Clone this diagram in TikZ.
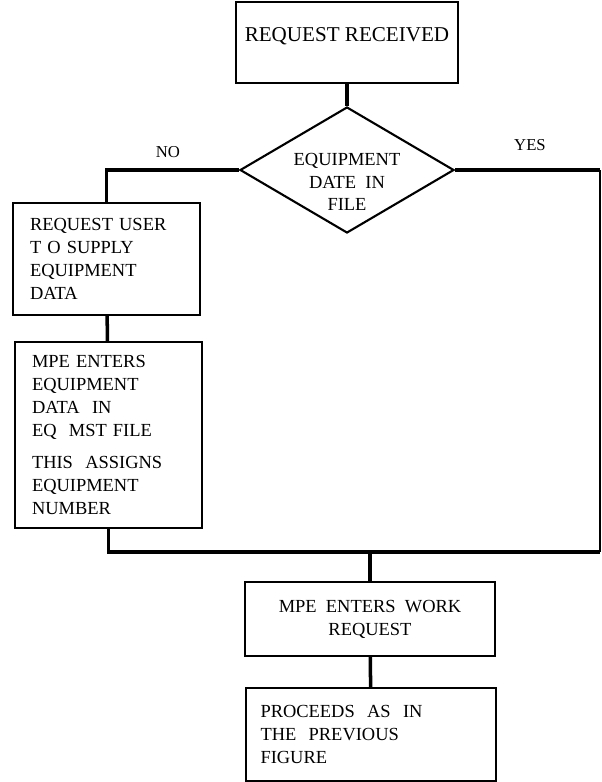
\documentclass[tikz,border=0pt]{standalone}
\usepackage{fontspec}
\setmainfont{Liberation Serif}
\usepackage{tikz}
\usetikzlibrary{positioning, shapes.geometric, calc}

\begin{document}
\begin{tikzpicture}[every node/.style={font=\fontsize{10.5}{13}\selectfont},
      box/.style={rectangle, draw, line width=1.2pt, inner sep=0pt},
      leftbox/.style={box, align=left, inner xsep=0.34cm},
      decision/.style={diamond, draw, line width=1.2pt, inner sep=0pt, align=center},
      link/.style={line width=2pt}]

      \useasboundingbox (0,0) rectangle (12.04,-15.64);

      % Blocks
      \node[box, minimum width=4.44cm, minimum height=1.62cm, text depth=0.3cm,
            font=\fontsize{12}{14}\selectfont] (received) at (6.94,-0.85) {REQUEST RECEIVED};
      \node[decision, minimum width=4.28cm, minimum height=2.52cm, shape aspect=1.7,
            label={[name=indatatext, align=center, yshift=-0.24cm]center:{EQUIPMENT\\DATE\ \ IN\\FILE}}] (indata) at (6.94,-3.4) {};
      \node[leftbox, minimum width=3.74cm, minimum height=2.24cm, text width=3.06cm] (askuser) at (2.13,-5.18)
            {REQUEST USER\\T O SUPPLY\\EQUIPMENT\\DATA};
      \node[leftbox, minimum width=3.74cm, minimum height=3.72cm, text width=3.06cm] (mpedata) at (2.17,-8.70)
            {MPE ENTERS\\EQUIPMENT\\DATA\ \ IN\\EQ\ \ MST FILE\\[0.2cm]THIS\ \ ASSIGNS\\EQUIPMENT\\NUMBER};
      \node[box, align=center, minimum width=5cm, minimum height=1.48cm] (workreq) at (7.4,-12.38)
            {MPE\ \ ENTERS\ \ WORK\\REQUEST};
      \node[leftbox, minimum width=5cm, minimum height=1.86cm, text width=4.42cm, inner xsep=0.29cm] (proceed) at (7.42,-14.69)
            {PROCEEDS\ \ AS\ \ IN\\THE\ \ PREVIOUS\\FIGURE};

      % Junction points
      \coordinate (corner) at (12.0,-11.04);
      \coordinate (yesend) at (indata.east -| corner);
      \coordinate (join) at (workreq.north |- corner);

      % Connections
      \draw[link] (received) -- (indata);
      \draw[link] (indata.west) -| (askuser.north);
      \draw[link] (askuser) -- (mpedata);
      \draw[link] (indata.east) -- (yesend);
      \draw[line width=1pt] (yesend) -- (corner);
      \draw[link] (mpedata.south) |- (corner);
      \draw[link] (join) -- (workreq.north);
      \draw[link] (workreq) -- (proceed);

      % Labels
      \node[font=\fontsize{9.5}{11}\selectfont] (nolabel) at (3.36,-3.04) {NO};
      \node[font=\fontsize{9.5}{11}\selectfont] (yeslabel) at (10.6,-2.9) {YES};
    \end{tikzpicture}
\end{document}
